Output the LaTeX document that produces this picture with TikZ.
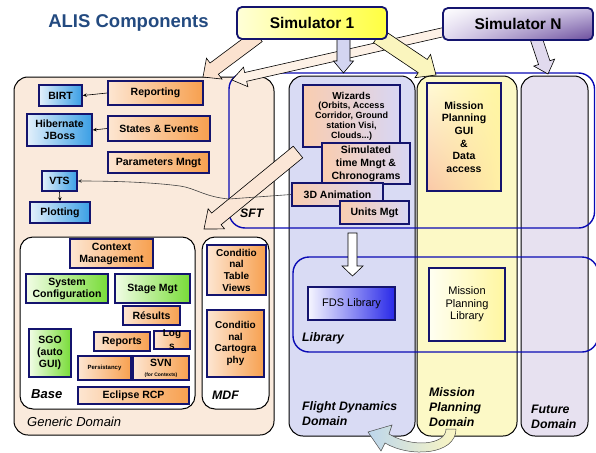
\documentclass[tikz,border=0pt]{standalone}
\usepackage{fontspec}
\setmainfont{Liberation Sans}
\usetikzlibrary{calc,arrows.meta,shadings}

\definecolor{navy}{HTML}{14146E}
\definecolor{titleblue}{HTML}{234A80}
\definecolor{areablue}{HTML}{0A0AB4}
\definecolor{orglt}{HTML}{FDE6D2}
\definecolor{orgdk}{HTML}{F7A04F}
\definecolor{blult}{HTML}{E3F0FB}
\definecolor{bludk}{HTML}{3A9FE5}
\definecolor{grnlt}{HTML}{F2FDE6}
\definecolor{grndk}{HTML}{78DC38}
\definecolor{wizlt}{HTML}{F9CDB0}
\definecolor{wizrt}{HTML}{D8D6F4}
\definecolor{genfill}{HTML}{FAEADC}
\definecolor{fdsfill}{HTML}{D9DBF4}
\definecolor{mpfill}{HTML}{FCF9C6}
\definecolor{futfill}{HTML}{E7E1F0}

% [style]{from}{to}{shaft half width}{head half width}{head length}
\newcommand{\blockarrow}[6][]{%
	\coordinate (ba-h) at ($(#3)!#6!(#2)$);
	\filldraw[blockarr,#1] ($(#2)!#4!90:(#3)$) -- ($(ba-h)!#4!90:(#3)$) -- ($(ba-h)!#5!90:(#3)$) -- (#3)
		-- ($(ba-h)!#5!-90:(#3)$) -- ($(ba-h)!#4!-90:(#3)$) -- ($(#2)!#4!-90:(#3)$) -- cycle;
}

\begin{document}
\begin{tikzpicture}[x=1pt,y=-1pt,
	every node/.style={inner sep=0pt},
	lbl/.style={font=\bfseries\fontsize{10.5}{12}\selectfont, align=center},
	comp/.style={lbl, draw=navy, line width=1.6pt},
	orgbox/.style={comp, left color=orglt, right color=orgdk},
	blubox/.style={comp, left color=blult, right color=bludk},
	grnbox/.style={comp, left color=grnlt, right color=grndk},
	sftbox/.style={comp, left color=wizlt, right color=wizrt},
	dombox/.style={draw=black, line width=1pt, rounded corners=14pt},
	zone/.style={draw=areablue, line width=1.4pt, rounded corners=16pt},
	dlabel/.style={font=\bfseries\itshape\fontsize{12.3}{15}\selectfont, align=left, anchor=base west},
	blockarr/.style={draw=black, line width=0.6pt},
	link/.style={-{Stealth[length=4pt,width=3.5pt]}, line width=0.6pt},
	simbox/.style={draw=navy, line width=1.8pt, rounded corners=5pt, font=\bfseries\fontsize{15.5}{18}\selectfont}]
	\useasboundingbox (0,0) rectangle (596,452);

	\path (128.5,28) node (title) [anchor=base, text=titleblue, font=\bfseries\fontsize{18.5}{21}\selectfont] {ALIS Components};

	% Domains
	\path (144,256) node (gen) [dombox, fill=genfill, minimum width=260, minimum height=358] {};
	\path (352,256) node (fds) [dombox, fill=fdsfill, minimum width=126, minimum height=360] {};
	\path (467,256) node (mpd) [dombox, fill=mpfill, minimum width=100, minimum height=360] {};
	\path (554.5,256) node (fut) [dombox, fill=futfill, minimum width=67, minimum height=360] {};
	\path (107.5,323) node (base) [dombox, fill=white, rounded corners=13pt, minimum width=175, minimum height=172] {};
	\path (235.5,323) node (mdf) [dombox, fill=white, rounded corners=13pt, minimum width=67, minimum height=172] {};
	\path (411.75,150.5) node (sft) [zone, minimum width=365.5, minimum height=155] {};
	\path (445.5,304.5) node (lib) [zone, minimum width=305, minimum height=95] {};

	% Simulators feeding the domains
	\coordinate (s1gen) at (258,36);
	\coordinate (gentip) at (203,77);
	\coordinate (snsft) at (444,32);
	\coordinate (sfttip) at (232,80);
	\coordinate (s1fds) at (343.5,38);
	\coordinate (fdstip) at (343.5,73);
	\coordinate (s1mp) at (378,36);
	\coordinate (mptip) at (436,75);
	\coordinate (snfut) at (536,38);
	\coordinate (futtip) at (548,74);
	\blockarrow[fill={rgb,255:red,251;green,226;blue,207}]{s1gen}{gentip}{7pt}{13pt}{14pt}
	\blockarrow[fill={rgb,255:red,253;green,241;blue,230}]{snsft}{sfttip}{4.5pt}{10pt}{14pt}
	\blockarrow[fill={rgb,255:red,211;green,213;blue,241}]{s1fds}{fdstip}{6.5pt}{10pt}{12pt}
	\blockarrow[fill={rgb,255:red,250;green,245;blue,190}]{s1mp}{mptip}{8pt}{14pt}{16pt}
	\blockarrow[fill={rgb,255:red,225;green,218;blue,238}]{snfut}{futtip}{6pt}{11pt}{12pt}

	\path (312,23) node (sim1) [simbox, left color={rgb,255:red,255;green,255;blue,216}, right color={rgb,255:red,255;green,255;blue,64}, minimum width=150, minimum height=32] {Simulator 1};
	\path (518,24) node (simn) [simbox, upper left=white, lower left={rgb,255:red,226;green,218;blue,240}, upper right={rgb,255:red,200;green,188;blue,224}, lower right={rgb,255:red,106;green,76;blue,156}, minimum width=150, minimum height=32] {Simulator N};

	% SFT down to MDF
	\coordinate (sftmdf) at (298,152);
	\coordinate (mdftip) at (204,229);
	\blockarrow[fill={rgb,255:red,251;green,230;blue,214}]{sftmdf}{mdftip}{7.5pt}{13pt}{16pt}

	% Generic domain
	\path (60.5,95.5) node (birt) [blubox, minimum width=43, minimum height=21] {BIRT};
	\path (155.5,93) node (reporting) [orgbox, minimum width=95, minimum height=24] {Reporting};
	\path (59.5,130) node (hibernate) [blubox, minimum width=65, minimum height=32] {Hibernate\\JBoss};
	\path (159,128.5) node (states) [orgbox, minimum width=102, minimum height=25] {States \& Events};
	\path (158.5,162.5) node (params) [orgbox, minimum width=101, minimum height=21] {Parameters Mngt};
	\path (59.5,181) node (vts) [blubox, minimum width=35, minimum height=20] {VTS};
	\path (60,212.5) node (plotting) [blubox, minimum width=60, minimum height=21] {Plotting};
	\draw[link] (reporting.west) -- (birt.east);
	\draw[link] (states.west) -- (hibernate.east);
	\draw[link] (vts.south) -- (plotting.north);

	% Base
	\path (111.5,253.5) node (context) [orgbox, minimum width=83, minimum height=29] {Context\\Management};
	\path (67,288.5) node (sysconf) [grnbox, minimum width=82, minimum height=29] {System\\Configuration};
	\path (152.5,288.5) node (stage) [grnbox, minimum width=75, minimum height=29] {Stage Mgt};
	\path (151.5,315.5) node (results) [orgbox, minimum width=57, minimum height=19] {Résults};
	\path (50,353) node (sgo) [grnbox, minimum width=42, minimum height=48] {SGO\\(auto\\GUI)};
	\path (122,341.5) node (reports) [orgbox, minimum width=56, minimum height=19] {Reports};
	\path (172,340) node (logs) [orgbox, minimum width=36, minimum height=18] {};
	\path (logs.center) node (logstext) [lbl, font=\bfseries\fontsize{10}{13}\selectfont] {Log\\s};
	\path (104.5,368) node (persist) [orgbox, font=\bfseries\fontsize{6}{7}\selectfont, minimum width=53, minimum height=24] {Persistancy};
	\path (161,368) node (svn) [orgbox, minimum width=56, minimum height=24] {SVN\\[-2pt]{\fontsize{5}{6}\selectfont (for Contexts)}};
	\path (133.5,395.5) node (eclipse) [orgbox, minimum width=111, minimum height=17] {Eclipse RCP};

	% MDF
	\path (236.5,270) node (tableviews) [orgbox, font=\bfseries\fontsize{10}{11.7}\selectfont, minimum width=59, minimum height=50] {Conditio\\nal\\Table\\Views};
	\path (235.5,343.5) node (carto) [orgbox, font=\bfseries\fontsize{10}{11.7}\selectfont, minimum width=57, minimum height=67] {Conditio\\nal\\Cartogra\\phy};

	% Flight dynamics
	\path (351.5,116) node (wizards) [sftbox, font=\bfseries\fontsize{9}{9.8}\selectfont, minimum width=97, minimum height=62] {{\fontsize{10}{11}\selectfont Wizards}\\(Orbits, Access\\Corridor, Ground\\station Visi,\\Clouds...)};
	\path (366,163.5) node (simtime) [sftbox, font=\bfseries\fontsize{10.5}{13}\selectfont, minimum width=88, minimum height=41] {Simulated\\time Mngt \&\\Chronograms};
	\path (337.5,194.5) node (anim) [sftbox, minimum width=91, minimum height=23] {3D Animation};
	\path (374.5,212.5) node (units) [sftbox, minimum width=69, minimum height=23] {Units Mgt};
	\draw[link, black!75] (anim.west) -- (229,199) .. controls (205,197) and (195,188) .. (180,186) .. controls (150,182) and (110,181) .. (vts.east);
	\path (351.5,303.5) node (fdslib) [comp, font=\fontsize{11}{13}\selectfont, left color={rgb,255:red,246;green,246;blue,255}, right color={rgb,255:red,40;green,40;blue,232}, minimum width=87, minimum height=33] {FDS Library};

	% Mission planning
	\path (464,137) node (mpgui) [comp, font=\bfseries\fontsize{10.5}{12.6}\selectfont, upper left={rgb,255:red,255;green,250;blue,215}, upper right={rgb,255:red,255;green,246;blue,160}, lower left={rgb,255:red,250;green,200;blue,168}, lower right={rgb,255:red,255;green,240;blue,165}, minimum width=74, minimum height=108] {Mission\\Planning\\GUI\\\&\\Data\\access};
	\path (467,304.5) node (mplib) [comp, font=\fontsize{11}{12.5}\selectfont, left color={rgb,255:red,255;green,255;blue,242}, right color={rgb,255:red,255;green,246;blue,160}, minimum width=76, minimum height=73] {Mission\\Planning\\Library};

	% SFT down to Library
	\coordinate (sftlib) at (352.5,233);
	\coordinate (libtip) at (352.5,276);
	\blockarrow[fill=white]{sftlib}{libtip}{4.5pt}{10.5pt}{10pt}

	% Mission planning back to flight dynamics
	\coordinate (mpback) at (451,429);
	\coordinate (fdsback) at (368,432);
	\draw[line width=0.5pt, draw=black!70, left color={rgb,255:red,188;green,214;blue,236}, right color={rgb,255:red,251;green,246;blue,194}]
		($(mpback)+(-5,0)$) .. controls (446,445) and (412,448) .. (389,434) -- (392,425) -- (fdsback) -- (381,451) -- (385,443)
		.. controls (410,458) and (456,455) .. ($(mpback)+(5,0)$) -- cycle;

	% Labels (base = last line)
	\path (27,426) node (gendom) [anchor=base west, font=\itshape\fontsize{13}{15}\selectfont] {Generic Domain};
	\path (31,398) node (baselbl) [dlabel, font=\bfseries\itshape\fontsize{13}{15}\selectfont] {Base};
	\path (212,399) node (mdflbl) [dlabel] {MDF};
	\path (240,217.6) node (sftlbl) [dlabel] {SFT};
	\path (302,341.6) node (liblbl) [dlabel] {Library};
	\path (302,425.6) node (fdslbl) [dlabel] {Flight Dynamics\\Domain};
	\path (429,426.6) node (mplbl) [dlabel] {Mission\\Planning\\Domain};
	\path (531,428.3) node (futlbl) [dlabel] {Future\\Domain};
\end{tikzpicture}
\end{document}
